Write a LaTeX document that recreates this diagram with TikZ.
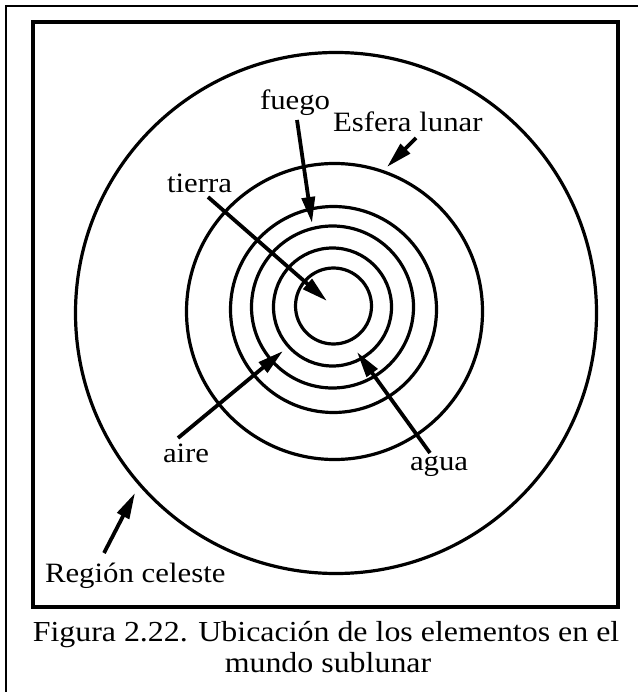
\documentclass[tikz,border=0pt]{standalone}
\usepackage{fontspec}
\setmainfont{Liberation Serif}
\usetikzlibrary{arrows.meta}
\newcommand{\lbl}[1]{\scalebox{1.1}[1.0]{\fontsize{28}{32}\selectfont #1}}
\newcommand{\captext}[1]{\scalebox{1.1}[1.0]{\fontsize{29}{33}\selectfont #1}}
\tikzset{
  ring/.style={draw=black, line width=3.2pt},
  frame/.style={draw=black, line width=3.5pt},
  thin/.style={draw=black, line width=1.3pt},
  pointer/.style={draw=black, line width=3.8pt, -{Triangle[length=26pt,width=13pt]}},
  label/.style={anchor=base west, inner sep=0pt, outer sep=0pt},
  captxt/.style={anchor=base, inner sep=0pt, outer sep=0pt}
}
\begin{document}
\begin{tikzpicture}[x=1pt,y=-1pt]
\useasboundingbox (0,0) rectangle (638,692);
\fill[white] (0,0) rectangle (638,692);
% outer page border (cut)
\draw[thin] (6,692) -- (6,6) -- (638,6);
% inner frame
\draw[frame] (33,22) rectangle (618,607);
% circles
\draw[ring] (336,313) circle (260.5);
\draw[ring] (334.5,311.5) circle (148);
\draw[ring] (333.5,309.5) circle (103);
\draw[ring] (332.5,307) circle (81);
\draw[ring] (332.5,307) circle (59);
\draw[ring] (333.5,306) circle (38);
% labels
\node[label] (fuego) at (260,110) {\lbl{fuego}};
\node[label] (lunar) at (333,132) {\lbl{Esfera lunar}};
\node[label] (tierra) at (167,193) {\lbl{tierra}};
\node[label] (aire) at (163,462) {\lbl{aire}};
\node[label] (agua) at (410,470) {\lbl{agua}};
\node[label] (region) at (45,582) {\lbl{Región celeste}};
\node[captxt] (cap1) at (326,641) {\captext{Figura 2.22. Ubicación de los elementos en el}};
\node[captxt] (cap2) at (328,672) {\captext{mundo sublunar}};
% arrow endpoints
\coordinate (fuegoS) at (297,120);  \coordinate (fuegoT) at (312,223);
\coordinate (lunarS) at (416,138);  \coordinate (lunarT) at (387,167);
\coordinate (tierraS) at (208,197); \coordinate (tierraT) at (327,301);
\coordinate (aireS) at (178,438);   \coordinate (aireT) at (283,351);
\coordinate (aguaS) at (430,453);   \coordinate (aguaT) at (357,352);
\coordinate (regionS) at (104,553); \coordinate (regionT) at (135,493);
\draw[pointer] (fuegoS) -- (fuegoT);
\draw[pointer] (lunarS) -- (lunarT);
\draw[pointer] (tierraS) -- (tierraT);
\draw[pointer] (aireS) -- (aireT);
\draw[pointer] (aguaS) -- (aguaT);
\draw[pointer] (regionS) -- (regionT);
\end{tikzpicture}
\end{document}
